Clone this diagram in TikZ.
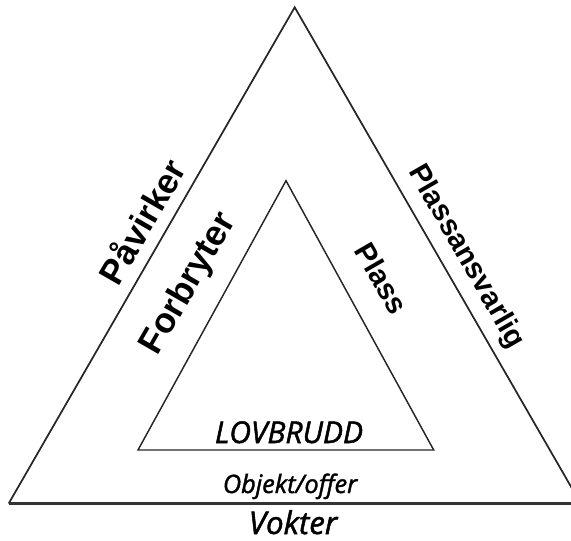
\documentclass[tikz,border=0pt]{standalone}
\usepackage{fontspec}
\setmainfont{Liberation Sans}
\newfontfamily\sidefont{Liberation Sans}
\newfontfamily\basefont{Open Sans}[FakeBold=1.6]
\begin{document}
\begin{tikzpicture}[x=0.75pt,y=-0.75pt,
  tri/.style={draw=black!85,line width=1.3pt,line join=miter},
  sidelbl/.style={font=\sidefont\bfseries\fontsize{24}{24}\selectfont,inner sep=0pt},
  baselbl/.style={inner sep=0pt,anchor=base}
]
\useasboundingbox (0,0) rectangle (571,540);
\begin{scope}
\clip (0,0) rectangle (571,540);
\coordinate (OA) at (294.7,7.3);
\coordinate (OL) at (8.7,503.5);
\coordinate (OR) at (580.7,503.5);
\draw[tri] (OL) -- (OA) -- (OR);
\draw[draw=black!80,line width=1.7pt] (OL) -- (OR);
\end{scope}
\coordinate (IA) at (286,180.7);
\coordinate (IL) at (138,450);
\coordinate (IR) at (433.7,450);
\draw[tri,line width=1.1pt] (IL) -- (IA) -- (IR) -- cycle;
\node[baselbl,font=\basefont\itshape\fontsize{22.5}{22.5}\selectfont] (lov) at (289,443) {LOVBRUDD};
\node[baselbl,font=\basefont\itshape\fontsize{19}{19}\selectfont] (obj) at (290,493) {Objekt/offer};
\node[baselbl,font=\basefont\itshape\fontsize{23.5}{23.5}\selectfont] (vok) at (293,534) {Vokter};
\node[sidelbl,rotate=60,font=\sidefont\bfseries\fontsize{26}{26}\selectfont] (pav) at (141,221) {Påvirker};
\node[sidelbl,rotate=60,font=\sidefont\bfseries\fontsize{26.5}{26.5}\selectfont] (for) at (189,284) {Forbryter};
\node[sidelbl,rotate=-60,font=\sidefont\bfseries\fontsize{22}{22}\selectfont] (pla) at (382,278) {Plass};
\node[sidelbl,rotate=-60,font=\sidefont\bfseries\fontsize{22}{22}\selectfont] (pan) at (466,257) {Plassansvarlig};
\end{tikzpicture}
\end{document}
